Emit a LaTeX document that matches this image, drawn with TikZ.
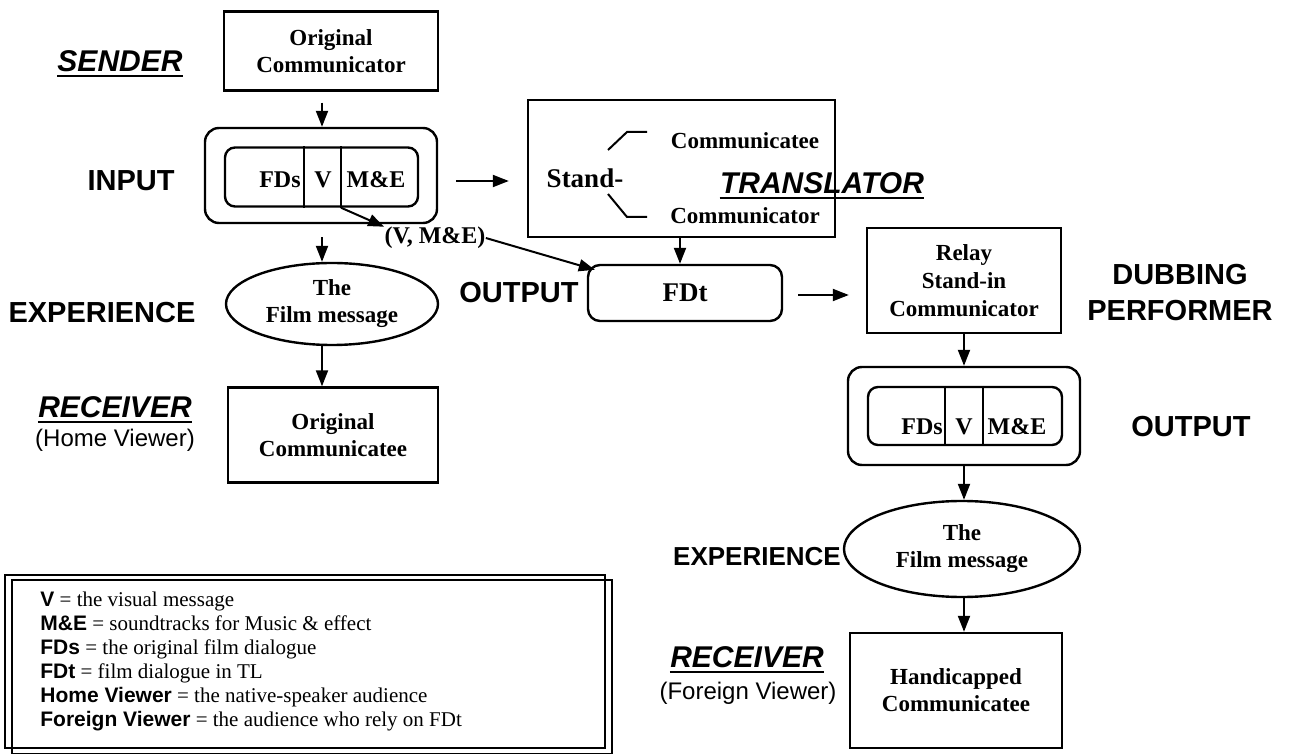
\documentclass[tikz,border=0pt]{standalone}
\usepackage{fontspec}
\setmainfont{Liberation Serif}
\setsansfont{Liberation Sans}
\usetikzlibrary{shapes.geometric,arrows.meta}

\begin{document}
\begin{tikzpicture}[x=0.5pt,y=-0.5pt,
  box/.style={draw,line width=1.2pt,inner sep=0pt,align=center,font=\bfseries\fontsize{11.5}{13.5}\selectfont},
  rbox/.style={box,rounded corners=6pt},
  oval/.style={box,ellipse},
  lab/.style={inner sep=0pt,align=center,font=\sffamily\bfseries\fontsize{14.5}{18}\selectfont},
  ulab/.style={inner sep=0pt,font=\sffamily\bfseries\itshape\fontsize{15}{18}\selectfont},
  plab/.style={inner sep=0pt,font=\sffamily\fontsize{12}{14}\selectfont},
  txt/.style={inner sep=0pt,font=\bfseries\fontsize{12}{14}\selectfont},
  uline/.style={line width=1pt},
  arr/.style={line width=1pt,-{Triangle[length=8pt,width=6pt]}}]
\useasboundingbox (0,0) rectangle (1292,754);

% sender side
\node[box,minimum width=107pt,minimum height=39.5pt] (orig) at (331,51) {Original\\Communicator};
\node[rbox,minimum width=116pt,minimum height=47.5pt,rounded corners=7pt] (in1o) at (321,175.5) {};
\node[rbox,minimum width=96.5pt,minimum height=29.5pt,rounded corners=5pt] (in1i) at (321.5,177) {};
\coordinate (d1) at (304,177);
\coordinate (d2) at (341,177);
\draw[line width=1.2pt] (in1i.north -| d1) -- (in1i.south -| d1) (in1i.north -| d2) -- (in1i.south -| d2);
\node[txt] (fds1) at (280,180) {FDs};
\node[txt] (v1) at (323,180) {V};
\node[txt] (me1) at (376,180) {M\&E};
\node[oval,minimum width=106pt,minimum height=41pt] (ell1) at (332,304) {The\\Film message};
\node[box,minimum width=105pt,minimum height=47.5pt] (hv) at (333,435) {Original\\Communicatee};

\node[ulab] (sender) at (120,61) {SENDER};
\draw[uline] ([yshift=-2.5pt]sender.base west) -- ([yshift=-2.5pt]sender.base east);
\node[lab] (input) at (131,181) {INPUT};
\node[lab] (exp1) at (102,313) {EXPERIENCE};
\node[ulab] (rec1) at (115,407) {RECEIVER};
\draw[uline] ([yshift=-2.5pt]rec1.base west) -- ([yshift=-2.5pt]rec1.base east);
\node[plab] (hvlab) at (115,440) {(Home Viewer)};

% translator
\node[box,minimum width=153.5pt,minimum height=68.5pt] (stand) at (681.5,168.5) {};
\node[inner sep=0pt,font=\bfseries\fontsize{13.5}{16}\selectfont] (sd) at (585,178) {Stand-};
\node[txt,font=\bfseries\fontsize{11.5}{14}\selectfont] (cee) at (745,141) {Communicatee};
\node[txt,font=\bfseries\fontsize{11.5}{14}\selectfont] (cor) at (745,216) {Communicator};
\draw[line width=1pt] (608,150) -- (627,132) -- (647,132);
\draw[line width=1pt] (608,194) -- (627,217) -- (647,217);
\node[ulab] (transl) at (822,183) {TRANSLATOR};
\draw[uline] ([yshift=-2.5pt]transl.base west) -- ([yshift=-2.5pt]transl.base east);
\node[rbox,minimum width=97pt,minimum height=28pt,font=\bfseries\fontsize{13.5}{16}\selectfont] (fdt) at (685,293) {FDt};
\node[lab] (out1) at (519,293) {OUTPUT};
\node[txt] (vme) at (435,238) {(V, M\&E)};

% dubbing side
\node[box,minimum width=97pt,minimum height=52.5pt,font=\bfseries\fontsize{11.5}{14}\selectfont] (relay) at (964,280.5) {Relay\\Stand-in\\Communicator};
\node[lab] (dub) at (1180,293) {DUBBING\\PERFORMER};
\node[rbox,minimum width=116pt,minimum height=49pt,rounded corners=7pt] (in2o) at (964,416) {};
\node[rbox,minimum width=97pt,minimum height=29pt,rounded corners=5pt] (in2i) at (965,416) {};
\coordinate (d3) at (945,416);
\coordinate (d4) at (983,416);
\draw[line width=1.2pt] (in2i.north -| d3) -- (in2i.south -| d3) (in2i.north -| d4) -- (in2i.south -| d4);
\node[txt] (fds2) at (922,427) {FDs};
\node[txt] (v2) at (964,427) {V};
\node[txt] (me2) at (1017,427) {M\&E};
\node[lab] (out2) at (1191,427) {OUTPUT};
\node[oval,minimum width=118pt,minimum height=48pt] (ell2) at (962,549) {The\\Film message};
\node[lab,font=\sffamily\bfseries\fontsize{13}{16}\selectfont] (exp2) at (757,557) {EXPERIENCE};
\node[box,minimum width=106pt,minimum height=57.5pt] (hc) at (956,690.5) {Handicapped\\Communicatee};
\node[ulab] (rec2) at (747,657) {RECEIVER};
\draw[uline] ([yshift=-2.5pt]rec2.base west) -- ([yshift=-2.5pt]rec2.base east);
\node[plab] (fvlab) at (748,693) {(Foreign Viewer)};

% legend
\draw[line width=0.6pt] (5,575) rectangle (605,748);
\draw[line width=1.4pt] (12,580) rectangle (612,754);
\node[anchor=north west,inner sep=0pt,align=left,font=\fontsize{10.5}{12}\selectfont] (key) at (40,592)
  {\textsf{\textbf{V}} = the visual message\\
   \textsf{\textbf{M\&E}} = soundtracks for Music \& effect\\
   \textsf{\textbf{FDs}} = the original film dialogue\\
   \textsf{\textbf{FDt}} = film dialogue in TL\\
   \textsf{\textbf{Home Viewer}} = the native-speaker audience\\
   \textsf{\textbf{Foreign Viewer}} = the audience who rely on FDt};

% connectors
\coordinate (c1) at (322,0);
\coordinate (c2) at (680,0);
\coordinate (c3) at (964,0);
\coordinate (r1) at (0,181);
\coordinate (r2) at (0,295);
\draw[arr,shorten <=5.5pt] (orig.south -| c1) -- (in1o.north -| c1);
\draw[arr,shorten <=6.5pt] (in1o.south -| c1) -- (ell1.north -| c1);
\draw[arr] (ell1.south -| c1) -- (hv.north -| c1);
\draw[arr,shorten <=9pt,shorten >=9pt] (in1o.east |- r1) -- (stand.west |- r1);
\draw[arr] (stand.south -| c2) -- (fdt.north -| c2);
\draw[arr] (in1i.south -| d2) -- (vme.north west);
\draw[arr] (vme.east) -- ([xshift=4pt,yshift=-3pt]fdt.north west);
\draw[arr,shorten <=7.5pt,shorten >=8.5pt] (fdt.east |- r2) -- (relay.west |- r2);
\draw[arr] (relay.south -| c3) -- (in2o.north -| c3);
\draw[arr] (in2o.south -| c3) -- (ell2.north -| c3);
\draw[arr] (ell2.south -| c3) -- (hc.north -| c3);
\end{tikzpicture}
\end{document}
